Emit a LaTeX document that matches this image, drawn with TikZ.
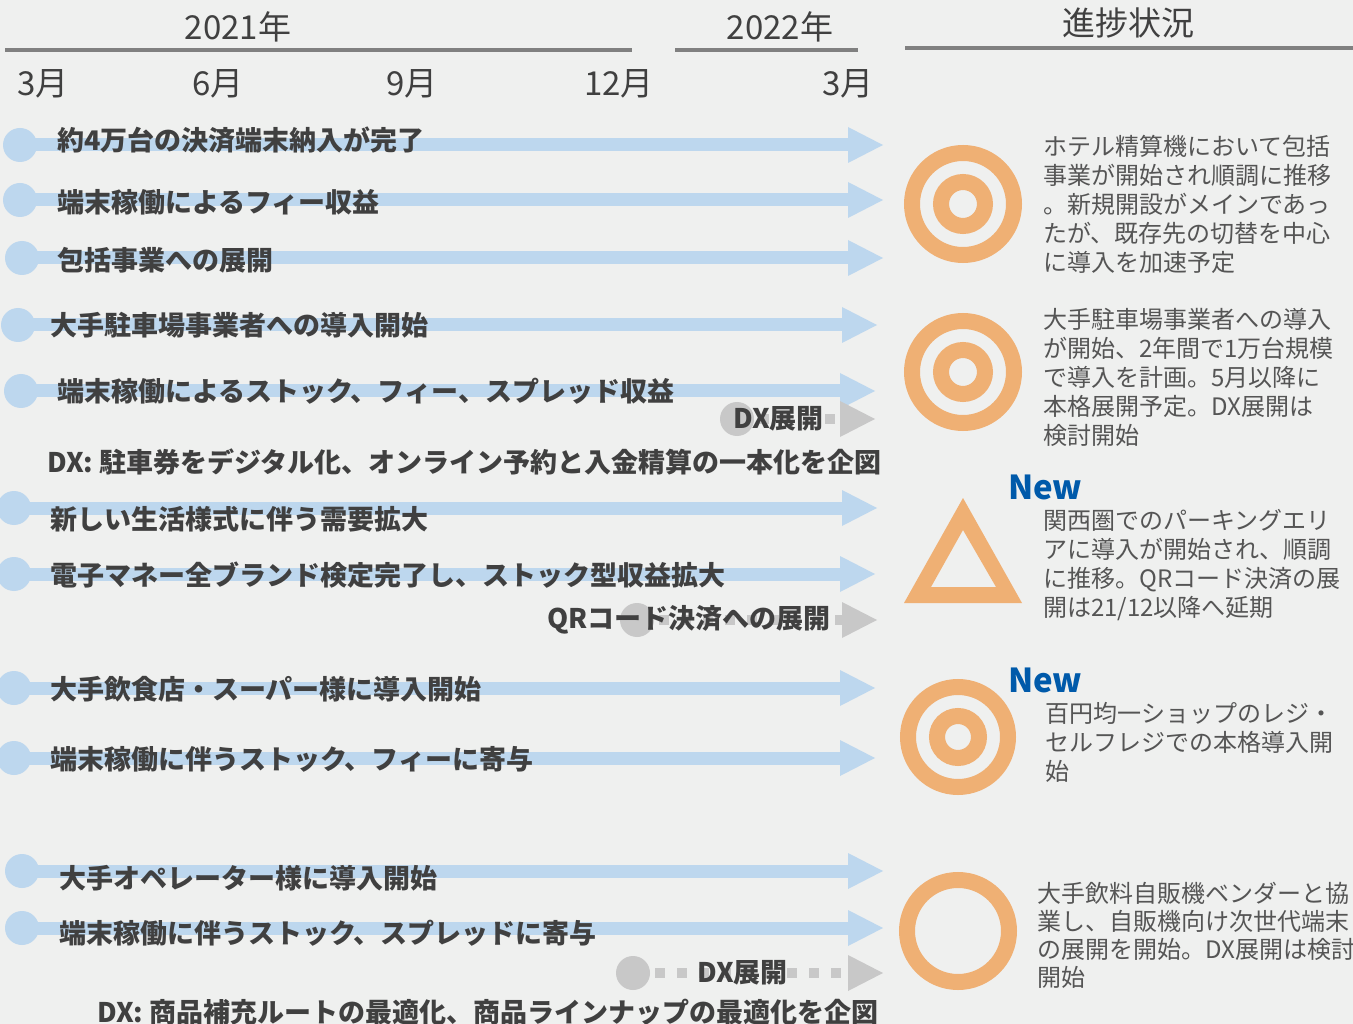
\documentclass[tikz,border=0pt]{standalone}
\usepackage{fontspec}
\setmainfont{Noto Sans CJK JP}
\usetikzlibrary{arrows.meta}
\definecolor{bg}{RGB}{239,240,239}
\definecolor{arrblue}{RGB}{189,215,238}
\definecolor{arrgray}{RGB}{200,200,200}
\definecolor{txt}{RGB}{64,64,64}
\definecolor{rtxt}{RGB}{85,85,85}
\definecolor{hline}{RGB}{128,128,128}
\definecolor{orng}{RGB}{239,176,116}
\definecolor{newblue}{RGB}{0,90,170}
\tikzset{
  bluearr/.style={draw=arrblue, line width=13pt, -{Triangle[length=35pt,width=36pt,line width=0pt]}},
  grayarr/.style={draw=arrgray, line width=10pt, dash pattern=on 10pt off 12pt, -{Triangle[length=35pt,width=36pt,line width=0pt]}},
  bdot/.style={circle, fill=arrblue, minimum size=34pt, inner sep=0pt},
  gdot/.style={circle, fill=arrgray, minimum size=34pt, inner sep=0pt},
  lbl/.style={anchor=west, inner sep=0pt, text=txt, font=\fontsize{27}{32}\selectfont\bfseries},
  hdr/.style={inner sep=0pt, text=txt, font=\fontsize{33}{36}\selectfont},
  hrule/.style={draw=hline, line width=4pt},
  rtext/.style={anchor=north west, inner sep=0pt, align=left, text=rtxt, font=\fontsize{24}{29}\selectfont},
  newlbl/.style={anchor=west, inner sep=0pt, text=newblue, font=\fontsize{33}{36}\selectfont\bfseries},
  ring/.style={draw=orng, line width=16pt},
}
\begin{document}
\begin{tikzpicture}[x=1pt,y=-1pt]
\useasboundingbox (0,0) rectangle (1353,1024);
\fill[bg] (0,0) rectangle (1353,1024);

% header
\node[hdr] (y2021) at (238,27) {2021年};
\node[hdr] (y2022) at (780,27) {2022年};
\node[hdr] (prog) at (1128,23) {進捗状況};
\coordinate (l1a) at (5,50); \coordinate (l1b) at (632,50);
\coordinate (l2a) at (675,50); \coordinate (l2b) at (858,50);
\coordinate (l3a) at (905,48); \coordinate (l3b) at (1353,48);
\draw[hrule] (l1a) -- (l1b);
\draw[hrule] (l2a) -- (l2b);
\draw[hrule] (l3a) -- (l3b);
\node[hdr] (m3) at (43,84) {3月};
\node[hdr] (m6) at (218,84) {6月};
\node[hdr] (m9) at (412,84) {9月};
\node[hdr] (m12) at (619,84) {12月};
\node[hdr] (m3b) at (848,84) {3月};

% blue arrows
\node[bdot] (s1) at (20,145) {}; \coordinate (e1) at (883,145);
\node[bdot] (s2) at (20,200) {}; \coordinate (e2) at (883,200);
\node[bdot] (s3) at (22,258) {}; \coordinate (e3) at (883,258);
\node[bdot] (s4) at (18,325) {}; \coordinate (e4) at (877,325);
\node[bdot] (s5) at (21,391) {}; \coordinate (e5) at (875,391);
\node[bdot] (s7) at (14,508) {}; \coordinate (e7) at (877,508);
\node[bdot] (s8) at (14,574) {}; \coordinate (e8) at (875,574);
\node[bdot] (s9) at (14,688) {}; \coordinate (e9) at (875,688);
\node[bdot] (s10) at (14,758) {}; \coordinate (e10) at (875,758);
\node[bdot] (s11) at (22,871) {}; \coordinate (e11) at (883,871);
\node[bdot] (s12) at (22,928) {}; \coordinate (e12) at (883,928);
\foreach \i in {1,2,3,4,5,7,8,9,10,11,12} {\draw[bluearr] (s\i.center) -- (e\i);}

% gray arrows
\node[gdot] (g1) at (737,419) {}; \coordinate (ge1) at (875,419);
\node[gdot] (g2) at (637,620) {}; \coordinate (ge2) at (877,620);
\node[gdot] (g3) at (633,973) {}; \coordinate (ge3) at (883,973);
\draw[grayarr] (g1.center) -- (ge1);
\draw[grayarr] (g2.center) -- (ge2);
\draw[grayarr] (g3.center) -- (ge3);

% labels
\node[lbl] (t1) at (57,140) {約4万台の決済端末納入が完了};
\node[lbl] (t2) at (57,202) {端末稼働によるフィー収益};
\node[lbl] (t3) at (57,260) {包括事業への展開};
\node[lbl] (t4) at (50,325) {大手駐車場事業者への導入開始};
\node[lbl] (t5) at (57,391) {端末稼働によるストック、フィー、スプレッド収益};
\node[lbl] (gt1) at (733,419) {DX展開};
\node[lbl] (t6) at (47,462) {DX: 駐車券をデジタル化、オンライン予約と入金精算の一本化を企図};
\node[lbl] (t7) at (50,519) {新しい生活様式に伴う需要拡大};
\node[lbl] (t8) at (50,575) {電子マネー全ブランド検定完了し、ストック型収益拡大};
\node[lbl] (gt2) at (547,620) {QRコード決済への展開};
\node[lbl] (t9) at (50,689) {大手飲食店・スーパー様に導入開始};
\node[lbl] (t10) at (50,759) {端末稼働に伴うストック、フィーに寄与};
\node[lbl] (t11) at (59,878) {大手オペレーター様に導入開始};
\node[lbl] (t12) at (59,933) {端末稼働に伴うストック、スプレッドに寄与};
\node[lbl] (gt3) at (697,973) {DX展開};
\node[lbl] (t13) at (97,1012) {DX: 商品補充ルートの最適化、商品ラインナップの最適化を企図};

% status icons
\draw[ring] (963,204) circle[radius=51];
\draw[ring] (963,204) circle[radius=22];
\draw[ring] (963,372) circle[radius=51];
\draw[ring] (963,372) circle[radius=22];
\fill[orng, even odd rule] (963,498) -- (1022,603) -- (904,603) -- cycle
  (963,530) -- (996,587) -- (931,587) -- cycle;
\draw[ring] (958,737) circle[radius=50];
\draw[ring] (958,737) circle[radius=21];
\draw[ring] (958,931) circle[radius=51];

% status texts
\node[rtext] (r1) at (1043,135) {ホテル精算機において包括\\事業が開始され順調に推移\\。新規開設がメインであっ\\たが、既存先の切替を中心\\に導入を加速予定};
\node[rtext] (r2) at (1043,308) {大手駐車場事業者への導入\\が開始、2年間で1万台規模\\で導入を計画。5月以降に\\本格展開予定。DX展開は\\検討開始};
\node[newlbl] (n1) at (1008,487) {New};
\node[rtext] (r3) at (1043,509) {関西圏でのパーキングエリ\\アに導入が開始され、順調\\に推移。QRコード決済の展\\開は21/12以降へ延期};
\node[newlbl] (n2) at (1008,680) {New};
\node[rtext] (r4) at (1045,702) {百円均一ショップのレジ・\\セルフレジでの本格導入開\\始};
\node[rtext,font=\fontsize{24}{28}\selectfont] (r5) at (1037,882) {大手飲料自販機ベンダーと協\\業し、自販機向け次世代端末\\の展開を開始。DX展開は検討\\開始};
\end{tikzpicture}
\end{document}
